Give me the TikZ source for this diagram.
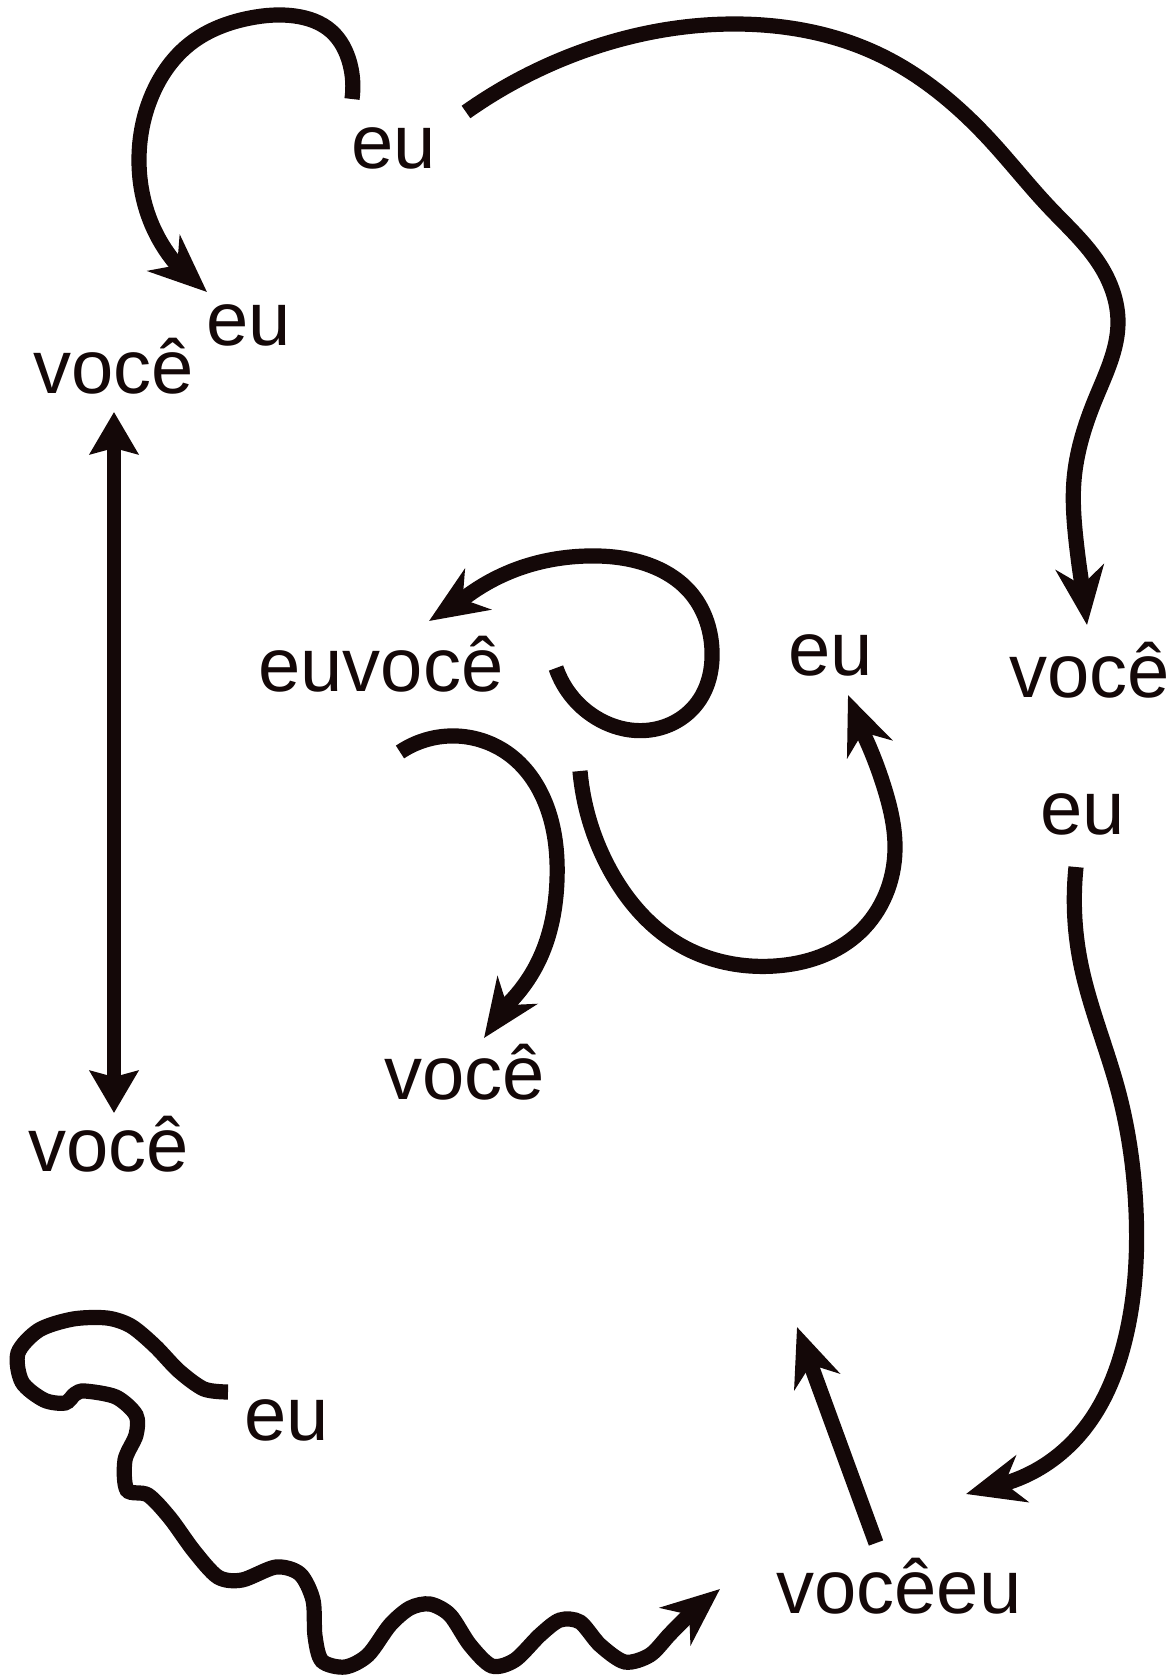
\documentclass[tikz,border=0pt]{standalone}
\usepackage{fontspec}
\setmainfont{Liberation Sans}
\usetikzlibrary{arrows.meta,hobby}
\definecolor{ink}{RGB}{20,8,8}
\begin{document}
\begin{tikzpicture}[x=0.5pt,y=-0.5pt,
  lbl/.style={inner sep=0pt, anchor=base, text=ink, font=\fontsize{38}{44}\selectfont},
  link/.style={draw=ink, line width=7.6pt, -{Stealth[length=29pt,width=24pt,inset=9pt]}},
  dbl/.style={draw=ink, line width=7pt, {Stealth[length=21pt,width=24pt,inset=3pt]}-{Stealth[length=21pt,width=24pt,inset=3pt]}}]
\useasboundingbox (0,0) rectangle (1175,1678);

% labels
\node[lbl] (eu1) at (394,168) {eu};
\node[lbl] (eu2) at (249,345) {eu};
\node[lbl] (voce1) at (114,393) {você};
\node[lbl] (voce2) at (109,1171) {você};
\node[lbl] (euvoce) at (381,691) {euvocê};
\node[lbl] (eu3) at (831,675) {eu};
\node[lbl] (voce3) at (1090,697) {você};
\node[lbl] (eu4) at (1083,834) {eu};
\node[lbl] (voce4) at (465,1099) {você};
\node[lbl] (eu5) at (287,1440) {eu};
\node[lbl] (voceeu) at (899,1613) {vocêeu};

% free ends
\coordinate (a0) at (352,99);   \coordinate (a1) at (207,292);
\coordinate (b0) at (466,112);  \coordinate (b1) at (1087,625);
\coordinate (c0) at (556,668);  \coordinate (c1) at (429,621);
\coordinate (d0) at (400,752);  \coordinate (d1) at (484,1038);
\coordinate (e0) at (580,771);  \coordinate (e1) at (848,695);
\coordinate (f0) at (114,412);  \coordinate (f1) at (114,1113);
\coordinate (g0) at (1076,867); \coordinate (g1) at (966,1494);
\coordinate (h0) at (876,1543); \coordinate (h1) at (797,1327);
\coordinate (i0) at (228,1392); \coordinate (i1) at (720,1589);

% A: eu -> eu (loop)
\draw[link, use Hobby shortcut] (a0) .. (350,64) .. (331,31) .. (295,16) .. (250,18) .. (191,43) .. (152,95) .. (139,160) .. (150,220) .. (177,265) -- (a1);

% B: eu -> você (big arc)
\draw[link, use Hobby shortcut] (b0) .. (589,49) .. (737,24) .. (880,55) .. (990,140) .. (1050,208) .. (1100,265) .. (1118,322) .. (1095,400) .. (1074,480) .. (1076,540) .. (1082,585) -- (b1);

% C: loop into euvocê
\draw[link, use Hobby shortcut] (c0) .. (600,720) .. (650,730) .. (698,702) .. (712,650) .. (690,592) .. (640,562) .. (587,556) .. (520,568) .. (463,599) -- (c1);

% D: -> você (middle)
\draw[link, use Hobby shortcut] (d0) .. (449,736) .. (510,755) .. (548,810) .. (557,880) .. (540,958) .. (507,1005) -- (d1);

% E: -> eu (middle)
\draw[link, use Hobby shortcut] (e0) .. (610,870) .. (680,945) .. (775,966) .. (860,932) .. (895,850) .. (885,790) .. (864,735) -- (e1);

% F: double arrow
\draw[dbl] (f0) -- (f1);

% G: eu -> vocêeu
\draw[link, use Hobby shortcut] (g0) .. (1080,960) .. (1118,1090) .. (1136,1210) .. (1125,1340) .. (1085,1428) .. (1040,1468) .. (1003,1484) -- (g1);

% H: straight arrow from vocêeu
\draw[link] (h0) -- (h1);

% I: wiggly line from eu to vocêeu
\draw[link] plot[smooth, tension=0.5] coordinates {(i0) (204,1389) (179,1371) (155,1346) (131,1326) (107,1318) (73,1319) (39,1330) (18,1353) (22,1382) (44,1400) (65,1403) (75,1394) (85,1391) (116,1397) (136,1415) (136,1435) (125,1460) (127,1490) (148,1495) (170,1518) (194,1551) (218,1577) (242,1580) (276,1567) (300,1574) (313,1600) (315,1636) (322,1661) (345,1667) (368,1655) (390,1625) (410,1608) (430,1604) (450,1615) (470,1645) (492,1666) (515,1660) (540,1635) (560,1620) (580,1622) (600,1645) (625,1662) (650,1655) (670,1634) (690,1614)} -- (i1);
\end{tikzpicture}
\end{document}
